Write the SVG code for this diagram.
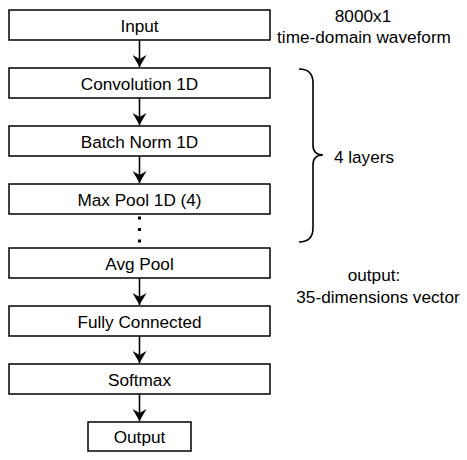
<svg xmlns="http://www.w3.org/2000/svg" width="467" height="460" viewBox="0 0 467 460">
<style>
.box{fill:#fff;stroke:#000;stroke-width:1.5}
.t{font-family:"Liberation Sans",Arial,sans-serif;font-size:17.2px;fill:#000;text-anchor:middle}
.c{stroke:#000;stroke-width:1.6;fill:none}
</style>
<defs>
<marker id="arr" markerWidth="14" markerHeight="14" refX="12" refY="7" orient="auto" markerUnits="userSpaceOnUse" viewBox="0 0 14 14">
<path d="M0,0 L12,7 L0,14 L4,7 Z" fill="#000"/>
</marker>
</defs>
<g id="connectors">
<line class="c" x1="139.5" y1="40" x2="139.5" y2="67" marker-end="url(#arr)"/>
<line class="c" x1="139.5" y1="98" x2="139.5" y2="125" marker-end="url(#arr)"/>
<line class="c" x1="139.5" y1="156" x2="139.5" y2="183" marker-end="url(#arr)"/>
<line class="c" x1="139.5" y1="278" x2="139.5" y2="305" marker-end="url(#arr)"/>
<line class="c" x1="139.5" y1="336" x2="139.5" y2="363" marker-end="url(#arr)"/>
<line class="c" x1="139.5" y1="394" x2="139.5" y2="421" marker-end="url(#arr)"/>
<g fill="#000">
<rect x="138" y="216.5" width="3" height="3"/>
<rect x="138" y="228" width="3" height="3"/>
<rect x="138" y="239.5" width="3" height="3"/>
</g>
</g>
<g id="input"><rect class="box" x="9" y="10" width="261" height="30"/><text class="t" x="139.5" y="31.5">Input</text></g>
<g id="conv"><rect class="box" x="9" y="68" width="261" height="30"/><text class="t" x="139.5" y="89.5">Convolution 1D</text></g>
<g id="bn"><rect class="box" x="9" y="126" width="261" height="30"/><text class="t" x="139.5" y="147.5">Batch Norm 1D</text></g>
<g id="mp"><rect class="box" x="9" y="184" width="261" height="30"/><text class="t" x="139.5" y="205.5">Max Pool 1D (4)</text></g>
<g id="avg"><rect class="box" x="9" y="248" width="261" height="30"/><text class="t" x="139.5" y="269.5">Avg Pool</text></g>
<g id="fc"><rect class="box" x="9" y="306" width="261" height="30"/><text class="t" x="139.5" y="327.5">Fully Connected</text></g>
<g id="softmax"><rect class="box" x="9" y="364" width="261" height="30"/><text class="t" x="139.5" y="385.5">Softmax</text></g>
<g id="output"><rect class="box" x="88" y="422" width="103" height="29"/><text class="t" x="139.5" y="443">Output</text></g>
<g id="brace">
<path class="c" stroke-width="1.5" d="M299,69 Q313,69 313,83 L313,145 Q313,155 323,155 Q313,155 313,165 L313,228 Q313,242 299,242"/>
<text class="t" x="364" y="163">4 layers</text>
</g>
<g id="notes">
<text class="t" x="363" y="22">8000x1</text>
<text class="t" x="364" y="42.5">time-domain waveform</text>
<text class="t" x="374" y="281">output:</text>
<text class="t" x="378" y="302.5">35-dimensions vector</text>
</g>
</svg>
